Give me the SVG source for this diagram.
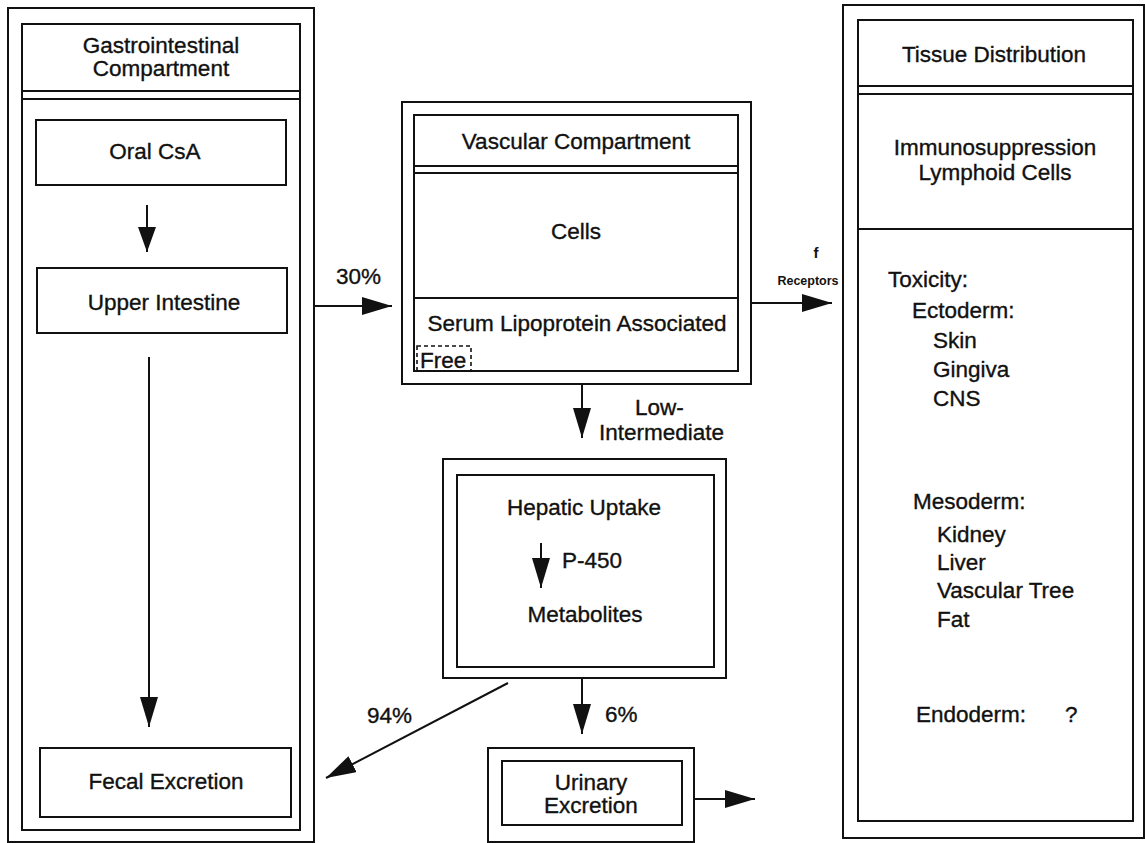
<svg xmlns="http://www.w3.org/2000/svg" width="1145" height="843" viewBox="0 0 1145 843">
<style>
.b{fill:none;stroke:#111;stroke-width:2}
.d{fill:none;stroke:#111;stroke-width:1.6;stroke-dasharray:4 3}
.l{fill:none;stroke:#111;stroke-width:2}
text{font-family:"Liberation Sans",Arial,Helvetica,sans-serif;font-size:22.5px;fill:#111;stroke:#111;stroke-width:0.35}
.m{text-anchor:middle}
.s{font-size:12.5px;font-weight:bold;stroke-width:0}
</style>
<defs>
<marker id="ah" markerUnits="userSpaceOnUse" markerWidth="32" markerHeight="20" refX="30" refY="9" orient="auto">
<path d="M0,0 L30,9 L0,18 Z" fill="#111"/>
</marker>
<marker id="ahs" markerUnits="userSpaceOnUse" markerWidth="28" markerHeight="20" refX="25" refY="9" orient="auto">
<path d="M0,0 L25,9 L0,18 Z" fill="#111"/>
</marker>
</defs>
<rect width="1145" height="843" fill="#fff"/>

<g id="gi-compartment">
<rect class="b" x="8" y="8" width="306" height="834"/>
<rect class="b" x="22" y="24" width="278" height="806"/>
<line class="b" x1="22" y1="91" x2="300" y2="91"/>
<line class="b" x1="22" y1="99" x2="300" y2="99"/>
<text class="m" x="161" y="53">Gastrointestinal</text>
<text class="m" x="161" y="76">Compartment</text>
</g>
<g id="oral-csa">
<rect class="b" x="36" y="120" width="250" height="65"/>
<text class="m" x="155" y="159">Oral CsA</text>
</g>
<g id="upper-intestine">
<rect class="b" x="37" y="268" width="250" height="65"/>
<text class="m" x="164" y="310">Upper Intestine</text>
</g>
<g id="fecal-excretion">
<rect class="b" x="40" y="748" width="251" height="69"/>
<text class="m" x="166" y="789">Fecal Excretion</text>
</g>

<g id="vascular-compartment">
<rect class="b" x="402" y="102" width="349" height="282"/>
<rect class="b" x="414" y="115" width="324" height="256"/>
<line class="b" x1="414" y1="166" x2="738" y2="166"/>
<line class="b" x1="414" y1="173" x2="738" y2="173"/>
<text class="m" x="576" y="149">Vascular Compartment</text>
<text class="m" x="576" y="239">Cells</text>
<line class="b" x1="414" y1="298" x2="738" y2="298"/>
<text class="m" x="577" y="331">Serum Lipoprotein Associated</text>
<rect class="d" x="417" y="346" width="54" height="25"/>
<text x="420" y="368">Free</text>
</g>

<g id="hepatic">
<rect class="b" x="443" y="459" width="283" height="219"/>
<rect class="b" x="457" y="475" width="257" height="192"/>
<text class="m" x="584" y="515">Hepatic Uptake</text>
<line class="l" x1="541" y1="543" x2="541" y2="588" marker-end="url(#ah)"/>
<text x="562" y="568">P-450</text>
<text class="m" x="585" y="622">Metabolites</text>
</g>

<g id="urinary-excretion">
<rect class="b" x="488" y="748" width="206" height="94"/>
<rect class="b" x="502" y="761" width="180" height="64"/>
<text class="m" x="591" y="790">Urinary</text>
<text class="m" x="591" y="813">Excretion</text>
</g>

<g id="tissue-distribution">
<rect class="b" x="843" y="5" width="301" height="833"/>
<rect class="b" x="858" y="20" width="275" height="801"/>
<line class="b" x1="858" y1="86" x2="1133" y2="86"/>
<line class="b" x1="858" y1="94" x2="1133" y2="94"/>
<text class="m" x="994" y="62">Tissue Distribution</text>
<text class="m" x="995" y="155">Immunosuppression</text>
<text class="m" x="995" y="180">Lymphoid Cells</text>
<line class="b" x1="858" y1="229" x2="1133" y2="229"/>
<text x="888" y="287">Toxicity:</text>
<text x="912" y="318">Ectoderm:</text>
<text x="933" y="348">Skin</text>
<text x="933" y="377">Gingiva</text>
<text x="933" y="406">CNS</text>
<text x="913" y="509">Mesoderm:</text>
<text x="937" y="542">Kidney</text>
<text x="937" y="570">Liver</text>
<text x="937" y="598">Vascular Tree</text>
<text x="937" y="627">Fat</text>
<text x="916" y="722">Endoderm:</text>
<text x="1065" y="722">?</text>
</g>

<g id="connectors">
<line class="l" x1="147" y1="205" x2="147" y2="252" marker-end="url(#ahs)"/>
<line class="l" x1="149" y1="357" x2="149" y2="727" marker-end="url(#ah)"/>
<line class="l" x1="314" y1="306" x2="392" y2="306" marker-end="url(#ah)"/>
<text x="336" y="284">30%</text>
<line class="l" x1="751" y1="303" x2="832" y2="303" marker-end="url(#ah)"/>
<text class="m s" x="816" y="258" style="font-size:15px">f</text>
<text class="m s" x="808" y="285">Receptors</text>
<line class="l" x1="582" y1="384" x2="582" y2="438" marker-end="url(#ah)"/>
<text x="635" y="415">Low-</text>
<text x="599" y="440">Intermediate</text>
<line class="l" x1="582" y1="678" x2="582" y2="734" marker-end="url(#ah)"/>
<text x="605" y="722">6%</text>
<line class="l" x1="508" y1="683" x2="326" y2="778" marker-end="url(#ah)"/>
<text x="367" y="723">94%</text>
<line class="l" x1="694" y1="799" x2="755" y2="799" marker-end="url(#ah)"/>
</g>
</svg>
